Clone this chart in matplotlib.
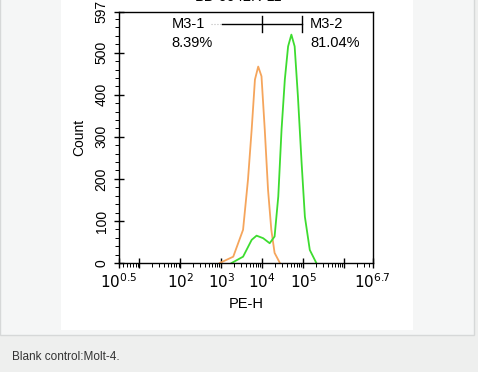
import numpy as np
import matplotlib.pyplot as plt
from matplotlib.patches import Rectangle
from matplotlib.ticker import FixedLocator, FixedFormatter

plt.rcParams['font.family'] = ['Liberation Sans', 'DejaVu Sans']

# histogram traces (x as log10 of PE-H, y as count)
blank_logx = [2.96, 3.29, 3.53, 3.65, 3.74, 3.82, 3.90, 3.98, 4.06, 4.14, 4.22, 4.30, 4.43]
blank_count = [0, 15, 79, 198, 317, 436, 467, 444, 317, 174, 79, 24, 0]

stain_logx = [3.25, 3.53, 3.74, 3.86, 4.02, 4.18, 4.30, 4.39, 4.47, 4.55, 4.63, 4.71,
              4.79, 4.87, 4.96, 5.04, 5.16, 5.32]
stain_count = [0, 15, 55, 65, 59, 47, 63, 158, 317, 436, 515, 543, 515, 396, 238,
               110, 31, 0]

# gate markers
gate_logx = [3.01, 3.99, 4.96]
gate_y = 569
gate_names = ['M3-1', 'M3-2']
gate_pct = ['8.39%', '81.04%']

xtick_exp = [0.5, 1, 2, 3, 4, 5, 6, 6.7]
xtick_labels = ['$10^{0.5}$', '', '$10^2$', '$10^3$', '$10^4$', '$10^5$', '', '$10^{6.7}$']
ytick_vals = [0, 100, 200, 300, 400, 500, 597]

fig = plt.figure(figsize=(4.78, 3.72), dpi=100)
fig.patch.set_facecolor('#eeefee')
fig.patches.append(Rectangle((0, 0.0995), 0.992, 0.91, transform=fig.transFigure,
                             facecolor='#f5f6f6', edgecolor='#d6d8d8', lw=1, zorder=-2))
fig.patches.append(Rectangle((0.128, 0.113), 0.736, 0.9, transform=fig.transFigure,
                             facecolor='white', edgecolor='none', zorder=-1))

ax = fig.add_axes([0.249, 0.293, 0.531, 0.675])
ax.set_facecolor('white')
ax.plot(10 ** np.array(blank_logx), blank_count, color='#f5a55c', lw=1.3)
ax.plot(10 ** np.array(stain_logx), stain_count, color='#3ddc2f', lw=1.3)

ax.set_xscale('log')
ax.set_xlim(10 ** 0.5, 10 ** 6.7)
ax.set_ylim(0, 597)

ax.xaxis.set_major_locator(FixedLocator([10 ** e for e in xtick_exp]))
ax.xaxis.set_major_formatter(FixedFormatter(xtick_labels))
minors = [m * 10 ** d for d in range(0, 7) for m in range(2, 10)]
minors = [v for v in minors if 10 ** 0.5 < v < 10 ** 6.7]
ax.xaxis.set_minor_locator(FixedLocator(minors))
ax.set_yticks(ytick_vals)
ax.set_yticklabels([str(v) for v in ytick_vals], rotation=90, va='center')
ax.yaxis.set_minor_locator(FixedLocator(np.arange(20, 597, 20)))

ax.tick_params(which='major', direction='inout', length=7, width=1, labelsize=11)
ax.tick_params(axis='y', which='major', labelsize=10, pad=4)
ax.tick_params(which='minor', direction='out', length=3, width=0.7)
for s in ax.spines.values():
    s.set_linewidth(1)

ax.set_xlabel('PE-H', fontsize=10.5, labelpad=4)
ax.set_ylabel('Count', fontsize=10, labelpad=6)

# gates
gx = 10 ** np.array(gate_logx)
ax.plot([10 ** 2.75, gx[0]], [gate_y, gate_y], color='#bbbbbb', lw=0.8, ls=':')
ax.plot([gx[0], gx[2]], [gate_y, gate_y], color='black', lw=1)
ax.plot([gx[1], gx[1]], [gate_y - 19, gate_y + 19], color='black', lw=1)
ax.plot([gx[2], gx[2]], [gate_y - 19, gate_y + 19], color='black', lw=1)
ax.text(0.208, 0.952, gate_names[0], transform=ax.transAxes, fontsize=10.5, va='center')
ax.text(0.208, 0.876, gate_pct[0], transform=ax.transAxes, fontsize=10.5, va='center')
ax.text(0.752, 0.952, gate_names[1], transform=ax.transAxes, fontsize=10.5, va='center')
ax.text(0.752, 0.876, gate_pct[1], transform=ax.transAxes, fontsize=10.5, va='center')

# cropped title at the top edge
fig.text(0.50, 1.008, 'BB-6042R-11', fontsize=10.5, ha='center', va='center')

fig.text(0.025, 0.040, 'Blank control:Molt-4.', fontsize=8.5, color='#333333', va='center')

fig.savefig('out.png', dpi=100, facecolor=fig.get_facecolor())
